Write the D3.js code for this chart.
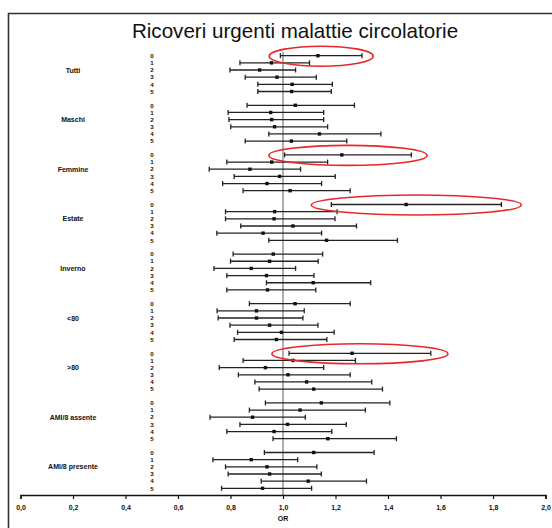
<!DOCTYPE html>
<html lang="en">
<head>
    <meta charset="UTF-8">
    <title>Ricoveri urgenti malattie circolatorie</title>
    <style>
        body { margin: 0; background: #fff; }
        svg { display: block; font-family: "Liberation Sans", Arial, sans-serif; }
    </style>
</head>
<body>
    <script src="https://d3js.org/d3.v7.min.js"></script>
    <script>
        // data: OR with lower / upper limits, lags 0..5
        const groups = ["Tutti", "Maschi", "Femmine", "Estate", "Inverno", "<80", ">80", "AMI/8 assente", "AMI/8 presente"];
        const lags = [0, 1, 2, 3, 4, 5];
        const orValues = [
            [1.133, 0.956, 0.911, 0.977, 1.035, 1.033],
            [1.047, 0.953, 0.957, 0.968, 1.139, 1.032],
            [1.224, 0.957, 0.874, 0.987, 0.939, 1.027],
            [1.469, 0.968, 0.966, 1.038, 0.924, 1.166],
            [0.963, 0.949, 0.879, 0.937, 1.115, 0.941],
            [1.046, 0.899, 0.899, 0.949, 0.994, 0.975],
            [1.263, 1.038, 0.933, 1.019, 1.090, 1.117],
            [1.146, 1.065, 0.884, 1.017, 0.966, 1.171],
            [1.117, 0.879, 0.939, 0.949, 1.096, 0.922]
        ];
        const lowerCI = [
            [0.990, 0.836, 0.798, 0.856, 0.904, 0.904],
            [0.863, 0.791, 0.794, 0.801, 0.946, 0.856],
            [1.006, 0.786, 0.719, 0.814, 0.770, 0.848],
            [1.184, 0.781, 0.781, 0.839, 0.748, 0.946],
            [0.810, 0.800, 0.737, 0.786, 0.937, 0.786],
            [0.872, 0.749, 0.753, 0.798, 0.827, 0.814],
            [1.023, 0.848, 0.757, 0.830, 0.893, 0.909],
            [0.933, 0.872, 0.722, 0.836, 0.786, 0.962],
            [0.929, 0.733, 0.781, 0.791, 0.917, 0.766]
        ];
        const upperCI = [
            [1.301, 1.101, 1.048, 1.127, 1.188, 1.184],
            [1.272, 1.155, 1.155, 1.170, 1.373, 1.243],
            [1.489, 1.170, 1.067, 1.199, 1.147, 1.256],
            [1.832, 1.206, 1.198, 1.280, 1.147, 1.436],
            [1.151, 1.134, 1.048, 1.118, 1.334, 1.125],
            [1.256, 1.081, 1.076, 1.133, 1.195, 1.167],
            [1.563, 1.276, 1.155, 1.256, 1.338, 1.379],
            [1.407, 1.314, 1.085, 1.241, 1.186, 1.432],
            [1.347, 1.056, 1.129, 1.146, 1.318, 1.109]
        ];
        // rows circled in red
        const highlighted = [["Tutti", 0], ["Femmine", 0], ["Estate", 0], [">80", 0]];
        const xTicks = [0, 0.2, 0.4, 0.6, 0.8, 1.0, 1.2, 1.4, 1.6, 1.8, 2.0];

        const width = 552, height = 528;
        const axisY = 495;

        const svg = d3.select("body")
            .append("svg")
            .attr("width", width)
            .attr("height", height);

        // frame (right and bottom edges fall outside the picture)
        svg.append("path")
            .attr("d", "M8.5,528 V13.5 H552")
            .attr("fill", "none")
            .attr("stroke", "#333")
            .attr("stroke-width", 1.6);

        svg.append("text")
            .attr("x", 295)
            .attr("y", 38)
            .attr("text-anchor", "middle")
            .attr("font-size", "20.6px")
            .attr("fill", "#111")
            .text("Ricoveri urgenti malattie circolatorie");

        // scales
        const x = d3.scaleLinear().domain([0, 2]).range([20.5, 545.5]);
        const yGroup = d3.scaleLinear().domain([0, groups.length - 1]).range([55.7, 452.5]);
        const yLag = d3.scaleLinear().domain([0, 5]).range([0, 35.8]);
        const rowY = (g, l) => yGroup(g) + yLag(l);

        // flatten rows
        let rows = [];
        groups.forEach((g, gi) => {
            lags.forEach((l, li) => {
                rows.push({ group: g, gi: gi, lag: l, or: orValues[gi][li], lo: lowerCI[gi][li], hi: upperCI[gi][li] });
            });
        });

        // reference line at OR = 1
        svg.append("line")
            .attr("x1", x(1)).attr("x2", x(1))
            .attr("y1", rowY(0, 0) - 4).attr("y2", axisY)
            .attr("stroke", "#9a9a9a")
            .attr("stroke-width", 1.6);

        // group labels
        svg.selectAll(".grp")
            .data(groups)
            .enter()
            .append("text")
            .attr("x", 73)
            .attr("y", (d, i) => rowY(i, 2) + 2.5)
            .attr("text-anchor", "middle")
            .attr("font-size", "7px")
            .attr("font-weight", "bold")
            .attr("fill", "#111")
            .text(d => d);

        // lag labels
        svg.selectAll(".lag")
            .data(rows)
            .enter()
            .append("text")
            .attr("x", 152)
            .attr("y", d => rowY(d.gi, d.lag) + 2.2)
            .attr("text-anchor", "middle")
            .attr("font-size", "6.2px")
            .attr("font-weight", "bold")
            .attr("fill", "#111")
            .text(d => d.lag);

        // error bars
        const bars = svg.append("g").attr("stroke", "#222").attr("stroke-width", 1.3);
        rows.forEach(d => {
            const yy = rowY(d.gi, d.lag);
            bars.append("line").attr("x1", x(d.lo)).attr("x2", x(d.hi)).attr("y1", yy).attr("y2", yy);
            bars.append("line").attr("x1", x(d.lo)).attr("x2", x(d.lo)).attr("y1", yy - 2.5).attr("y2", yy + 2.5);
            bars.append("line").attr("x1", x(d.hi)).attr("x2", x(d.hi)).attr("y1", yy - 2.5).attr("y2", yy + 2.5);
        });

        // point estimates
        svg.selectAll(".pt")
            .data(rows)
            .enter()
            .append("rect")
            .attr("x", d => x(d.or) - 1.7)
            .attr("y", d => rowY(d.gi, d.lag) - 1.7)
            .attr("width", 3.4)
            .attr("height", 3.4)
            .attr("fill", "#111");

        // red ellipses around the highlighted rows
        svg.selectAll(".hl")
            .data(highlighted.map(h => rows.find(r => r.group === h[0] && r.lag === h[1])))
            .enter()
            .append("ellipse")
            .attr("cx", d => (x(d.lo) + x(d.hi)) / 2)
            .attr("cy", d => rowY(d.gi, d.lag) + 0.5)
            .attr("rx", d => (x(d.hi) - x(d.lo)) / 2 * 1.2 + 3)
            .attr("ry", 10)
            .attr("fill", "none")
            .attr("stroke", "#e8272b")
            .attr("stroke-width", 1.6);

        // x axis
        const axis = svg.append("g")
            .attr("transform", "translate(0," + axisY + ")")
            .call(d3.axisBottom(x)
                .tickValues(xTicks)
                .tickSize(4)
                .tickPadding(6)
                .tickFormat(d => d3.format(".1f")(d).replace(".", ",")));
        axis.select(".domain").attr("stroke", "#111").attr("stroke-width", 1.5);
        axis.selectAll(".tick line").attr("stroke", "#111").attr("stroke-width", 1.2);
        axis.selectAll(".tick text")
            .attr("font-family", "Liberation Sans, Arial, sans-serif")
            .attr("font-size", "7px")
            .attr("font-weight", "bold")
            .attr("fill", "#111");

        svg.append("text")
            .attr("x", x(1))
            .attr("y", 521)
            .attr("text-anchor", "middle")
            .attr("font-size", "7px")
            .attr("font-weight", "bold")
            .attr("fill", "#111")
            .text("OR");
    </script>
</body>
</html>
